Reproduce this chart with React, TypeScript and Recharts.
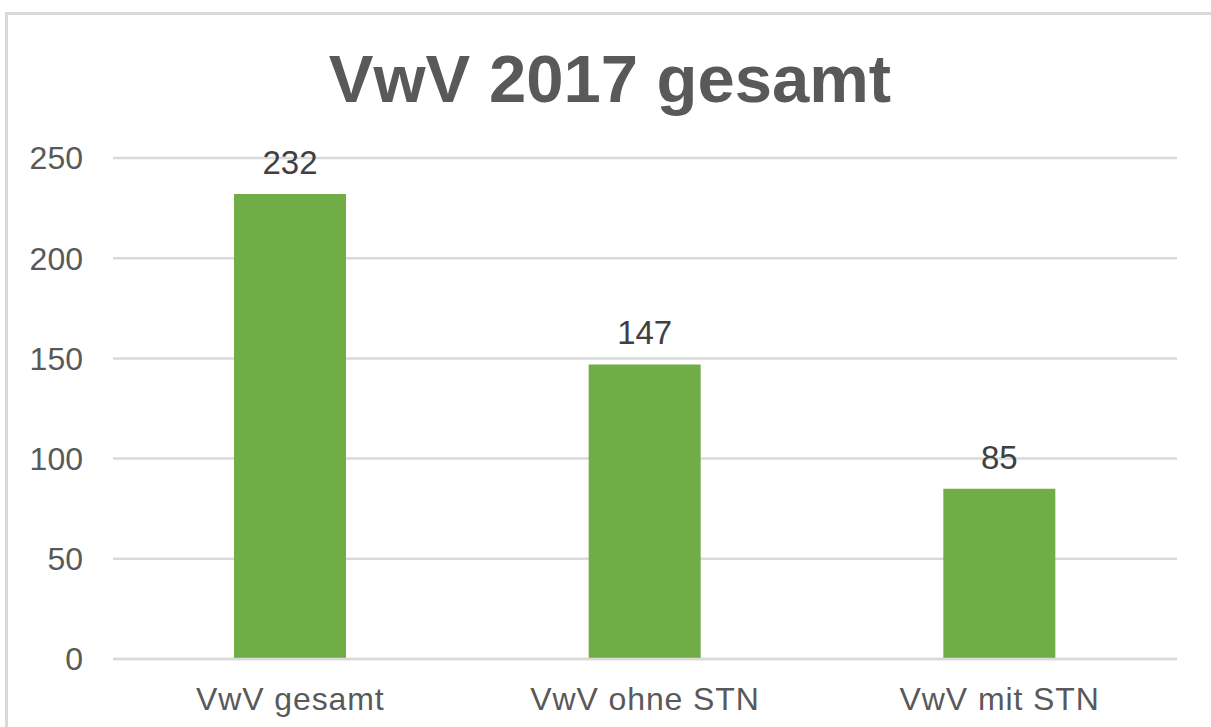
import { Bar, BarChart, CartesianGrid, LabelList, XAxis, YAxis } from 'recharts';

const categories = ['VwV gesamt', 'VwV ohne STN', 'VwV mit STN'];
const counts = [232, 147, 85];
const yTicks = [0, 50, 100, 150, 200, 250];

const data = categories.map((name, i) => ({ name, value: counts[i] }));

const FONT = '"Liberation Sans", Arial, sans-serif';
const TEXT = '#595959';

export default function App() {
    return (
        <div style={{ position: 'absolute', left: 0, top: 0, width: 1211, height: 727, overflow: 'hidden', background: '#fff', fontFamily: FONT }}>
            {/* chart frame, runs off the right and bottom edge */}
            <div
                style={{
                    position: 'absolute',
                    left: 5,
                    top: 12,
                    width: 1240,
                    height: 760,
                    border: '3px solid #d9d9d9',
                    boxSizing: 'border-box',
                }}
            />
            <div
                style={{
                    position: 'absolute',
                    left: 0,
                    top: 46,
                    width: 1220,
                    textAlign: 'center',
                    fontSize: 67,
                    lineHeight: '66px',
                    fontWeight: 'bold',
                    color: TEXT,
                }}
            >
                VwV 2017 gesamt
            </div>
            <div style={{ position: 'absolute', left: 0, top: 0 }}>
                <BarChart width={1211} height={727} data={data} margin={{ top: 158, right: 34, bottom: 18, left: 0 }} barSize={112}>
                    <CartesianGrid vertical={false} stroke="#d9d9d9" strokeWidth={2.5} />
                    <XAxis
                        dataKey="name"
                        height={50}
                        axisLine={{ stroke: '#d9d9d9', strokeWidth: 2.5 }}
                        tickLine={false}
                        tickSize={0}
                        tickMargin={28}
                        tick={{ fill: TEXT, fontSize: 32, fontFamily: FONT, letterSpacing: 0.9 }}
                    />
                    <YAxis
                        width={113}
                        domain={[0, 250]}
                        ticks={yTicks}
                        axisLine={false}
                        tickLine={false}
                        tickSize={0}
                        tickMargin={30}
                        tick={{ fill: TEXT, fontSize: 32, fontFamily: FONT }}
                    />
                    <Bar dataKey="value" fill="#70ad47" isAnimationActive={false}>
                        <LabelList dataKey="value" position="top" offset={20} fill="#404040" fontSize={33} fontFamily={FONT} />
                    </Bar>
                </BarChart>
            </div>
        </div>
    );
}
